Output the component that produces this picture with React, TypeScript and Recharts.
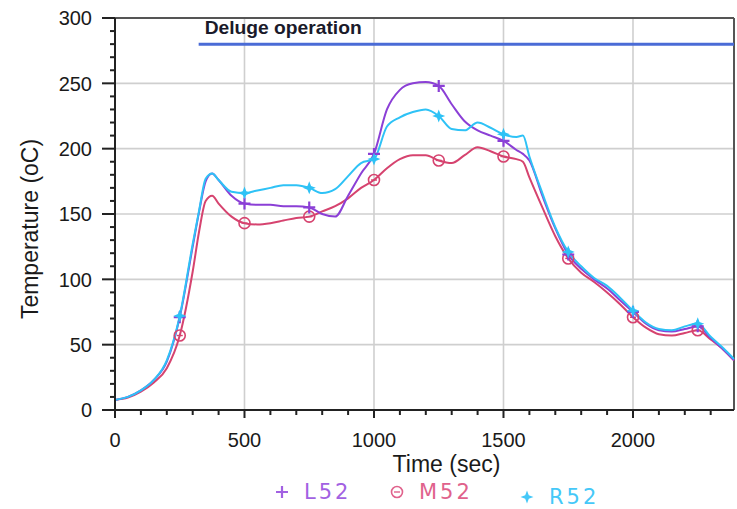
import React from 'react';
import { LineChart, Line, XAxis, YAxis, ReferenceLine } from 'recharts';

// time (sec)
const times = [
  0, 50, 100, 150, 200, 250, 300, 325, 350, 375, 400, 450, 500, 550, 600, 650, 700, 750,
  800, 850, 900, 950, 1000, 1050, 1100, 1150, 1200, 1250, 1300, 1350, 1400, 1450, 1500,
  1550, 1575, 1600, 1650, 1700, 1750, 1800, 1850, 1900, 1950, 2000, 2050, 2100, 2150,
  2200, 2250, 2300, 2350, 2390,
];

// temperature (oC)
const l52 = [
  7.7, 10, 15, 23, 37, 71, 125, 152, 175, 181, 176, 164, 158, 157, 157, 156, 156, 155,
  150, 148, 164, 181, 196, 230, 245, 250, 251, 248, 234, 221, 214, 210, 206,
  199, 196, 191, 164, 139, 119, 108, 100, 93, 84, 75, 66, 61, 60,
  62, 64, 55, 46, 38,
];
const m52 = [
  7.7, 9.5, 14, 21, 32, 57, 106, 137, 160, 164, 158, 148, 143, 142, 143, 145, 147, 148,
  152, 156, 162, 170, 176, 185, 192, 195, 195, 191, 189, 195, 201, 198, 194,
  192, 190, 178, 155, 133, 116, 105, 98, 90, 81, 71, 63, 58, 57,
  59, 61, 54, 46, 38,
];
const r52 = [
  7.7, 10, 15, 23, 38, 72, 127, 153, 177, 181, 176, 167, 166, 168, 170, 172, 172, 170,
  166, 169, 179, 189, 192, 217, 224, 228, 230, 225, 215, 214, 220, 216, 211,
  209, 210, 194, 166, 140, 121, 110, 101, 95, 86, 76, 67, 62, 61,
  64, 66, 56, 47, 39,
];

const X_MAX = 2390;
const xTicks = Array.from({ length: 24 }, (_, i) => i * 100);
const yTicks = Array.from({ length: 31 }, (_, i) => i * 10);
const xMajor = [500, 1000, 1500, 2000];
const yMajor = [50, 100, 150, 200, 250];

const data = times.map((t, i) => ({ t, L52: l52[i], M52: m52[i], R52: r52[i] }));

const COLORS = { L52: '#8b3fd6', M52: '#d6436f', R52: '#2ec2f6' };
const font = '"Liberation Sans", Arial, sans-serif';

const Marker = ({ kind, x, y, color }: { kind: string; x: number; y: number; color: string }) => {
  if (kind === 'L52') {
    return <path d={`M${x - 6},${y}H${x + 6}M${x},${y - 6}V${y + 6}`} stroke={color} strokeWidth={2.2} fill="none" />;
  }
  if (kind === 'M52') {
    return (
      <g>
        <circle cx={x} cy={y} r={5.5} fill="none" stroke={color} strokeWidth={1.6} />
        <path d={`M${x - 3},${y}H${x + 3}`} stroke={color} strokeWidth={1.4} />
      </g>
    );
  }
  const a = 6.5, b = 1.8;
  return (
    <path
      d={`M${x},${y - a}L${x + b},${y - b}L${x + a},${y}L${x + b},${y + b}L${x},${y + a}L${x - b},${y + b}L${x - a},${y}L${x - b},${y - b}Z`}
      fill={color}
    />
  );
};

const makeDot = (kind: 'L52' | 'M52' | 'R52') => (p: any) => {
  const t = p.payload?.t;
  if (t > 0 && t < 2300 && t % 250 === 0) {
    return (
      <g key={`${kind}-${p.index}`}>
        <Marker kind={kind} x={p.cx} y={p.cy} color={COLORS[kind]} />
      </g>
    );
  }
  return <g key={`${kind}-${p.index}`} />;
};

// tick props arrive tickSize (0) + tickMargin (0) from the axis line: draw marks as filled bars
const renderXTick = (props: any) => {
  const x = Number(props.x);
  const y = Number(props.y);
  const major = props.payload.value % 500 === 0;
  return (
    <g>
      <rect x={x - 1} y={y} width={2} height={major ? 8 : 5} fill="#222" />
      {major && (
        <text x={x} y={y + 37} textAnchor="middle" fontSize={20} fontFamily={font} fill="#1a1a1a">
          {props.payload.value}
        </text>
      )}
    </g>
  );
};

const renderYTick = (props: any) => {
  const x = Number(props.x);
  const y = Number(props.y);
  const major = props.payload.value % 50 === 0;
  const len = major ? 13 : 5;
  return (
    <g>
      <rect x={x - len} y={y - 1} width={len} height={2} fill="#222" />
      {major && (
        <text x={x - 23} y={y} dy="0.36em" textAnchor="end" fontSize={20} fontFamily={font} fill="#1a1a1a">
          {props.payload.value}
        </text>
      )}
    </g>
  );
};

const DelugeLabel = (props: any) => {
  const vb = props.viewBox || {};
  return (
    <text x={vb.x + 6} y={vb.y - 10} fontSize={19} fontWeight={600} fontFamily={font} fill="#1a1a2a" textLength={157} lengthAdjust="spacingAndGlyphs">
      Deluge operation
    </text>
  );
};

const TimeTitle = (props: any) => {
  const vb = props.viewBox || {};
  return (
    <text x={vb.x + vb.width / 2 + 22} y={vb.y + 62} textAnchor="middle" fontSize={23} fontFamily={font} fill="#1a1a1a">
      Time (sec)
    </text>
  );
};

const TempTitle = () => (
  <text x={30} y={229} transform="rotate(-90 30 229)" textAnchor="middle" dy="0.36em" fontSize={23} fontFamily={font} fill="#1a1a1a">
    Temperature (oC)
  </text>
);

const legendItems: { key: 'L52' | 'M52' | 'R52'; left: number; top: number; text: string }[] = [
  { key: 'L52', left: 270, top: 480, text: '#a261e2' },
  { key: 'M52', left: 385, top: 480, text: '#e0628c' },
  { key: 'R52', left: 515, top: 485, text: '#45c8f8' },
];

export default function App() {
  return (
    <div style={{ position: 'absolute', left: 0, top: 0, width: 737, height: 509 }}>
      <LineChart width={737} height={509} data={data} margin={{ top: 18, right: 3, left: 0, bottom: 0 }}>
        <XAxis
          dataKey="t"
          type="number"
          domain={[0, X_MAX]}
          ticks={xTicks}
          interval={0}
          tickSize={0}
          tickMargin={0}
          tickLine={false}
          tick={renderXTick}
          height={99}
          axisLine={{ stroke: '#222', strokeWidth: 2 }}
          label={<TimeTitle />}
        />
        <YAxis
          type="number"
          domain={[0, 300]}
          ticks={yTicks}
          interval={0}
          tickSize={0}
          tickMargin={0}
          tickLine={false}
          tick={renderYTick}
          width={115}
          axisLine={{ stroke: '#222', strokeWidth: 2 }}
          label={<TempTitle />}
        />
        {xMajor.map((v) => (
          <ReferenceLine key={`gx${v}`} x={v} stroke="#cfcfcf" strokeWidth={1.6} />
        ))}
        {yMajor.map((v) => (
          <ReferenceLine key={`gy${v}`} y={v} stroke="#cfcfcf" strokeWidth={1.6} />
        ))}
        <ReferenceLine y={300} stroke="#555" strokeWidth={2} />
        <ReferenceLine x={X_MAX} stroke="#555" strokeWidth={2} />
        <ReferenceLine
          segment={[{ x: 323, y: 280 }, { x: X_MAX, y: 280 }]}
          stroke="#4a6bd6"
          strokeWidth={3}
          label={<DelugeLabel />}
        />
        <Line type="monotone" dataKey="M52" stroke={COLORS.M52} strokeWidth={2} dot={makeDot('M52')} activeDot={false} isAnimationActive={false} />
        <Line type="monotone" dataKey="L52" stroke={COLORS.L52} strokeWidth={2} dot={makeDot('L52')} activeDot={false} isAnimationActive={false} />
        <Line type="monotone" dataKey="R52" stroke={COLORS.R52} strokeWidth={2} dot={makeDot('R52')} activeDot={false} isAnimationActive={false} />
      </LineChart>
      {legendItems.map((it) => (
        <div key={it.key} style={{ position: 'absolute', left: it.left, top: it.top, display: 'flex', alignItems: 'center', height: 24 }}>
          <svg width={24} height={24}>
            <Marker kind={it.key} x={12} y={12} color={it.text} />
          </svg>
          <span style={{ marginLeft: 10, color: it.text, fontFamily: '"DejaVu Sans", sans-serif', fontSize: 21, letterSpacing: 3 }}>
            {it.key}
          </span>
        </div>
      ))}
    </div>
  );
}
